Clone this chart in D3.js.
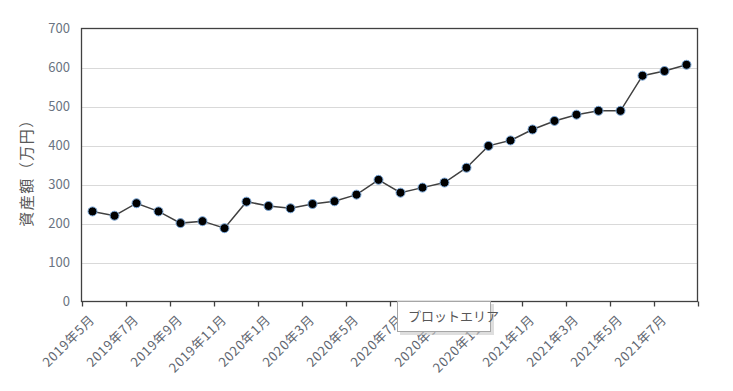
<!DOCTYPE html>
<html>
<head>
<meta charset="utf-8">
<script src="https://cdn.jsdelivr.net/npm/d3@7"></script>
<style>
  body { margin: 0; background: #fff; }
  svg { display: block; font-family: "Noto Sans CJK JP", "Noto Sans", sans-serif; }
</style>
</head>
<body>
<svg id="chart" width="733" height="391"></svg>
<script>
// monthly categories, 2019年5月 .. 2021年8月
var months = ["2019年5月","2019年6月","2019年7月","2019年8月","2019年9月","2019年10月","2019年11月","2019年12月",
              "2020年1月","2020年2月","2020年3月","2020年4月","2020年5月","2020年6月","2020年7月","2020年8月",
              "2020年9月","2020年10月","2020年11月","2020年12月","2021年1月","2021年2月","2021年3月","2021年4月",
              "2021年5月","2021年6月","2021年7月","2021年8月"];
var assets = [231, 220, 252, 231, 201, 206, 188, 256,
              245, 239, 250, 257, 274, 312, 279, 292,
              305, 343, 399, 413, 441, 463, 479, 489,
              489, 579, 591, 607];
var yTicks = [0, 100, 200, 300, 400, 500, 600, 700];
var yTitle = "資産額（万円）";
var tipText = "プロットエリア";

function main() {
  var svg = d3.select("#chart");
  var left = 81.5, right = 697.5, top = 28.5, bottom = 301.5;

  var x = d3.scaleBand().domain(months).range([left, right]).padding(0);
  var y = d3.scaleLinear().domain([0, 700]).range([bottom, top]);

  // gridlines
  svg.append("g")
    .selectAll("line")
    .data(yTicks.slice(1, -1))
    .enter().append("line")
    .attr("x1", left).attr("x2", right)
    .attr("y1", function(d) { return Math.round(y(d)) + 0.5; })
    .attr("y2", function(d) { return Math.round(y(d)) + 0.5; })
    .attr("stroke", "#d9d9d9").attr("stroke-width", 1.2);

  // plot frame
  svg.append("rect")
    .attr("x", left).attr("y", top)
    .attr("width", right - left).attr("height", bottom - top)
    .attr("fill", "none").attr("stroke", "#404040").attr("stroke-width", 1.3);

  // y labels
  svg.append("g")
    .selectAll("text")
    .data(yTicks)
    .enter().append("text")
    .attr("x", 70)
    .attr("y", function(d) { return y(d); })
    .attr("dy", "0.35em")
    .attr("text-anchor", "end")
    .attr("font-size", 13)
    .attr("fill", "#6a7482")
    .text(function(d) { return d; });

  // x ticks every 2 months on category boundaries
  var tickPos = [];
  for (var i = 0; i <= months.length; i += 2) tickPos.push(left + i * x.bandwidth());
  svg.append("g")
    .selectAll("line")
    .data(tickPos)
    .enter().append("line")
    .attr("x1", function(d) { return Math.round(d) + 0.5; })
    .attr("x2", function(d) { return Math.round(d) + 0.5; })
    .attr("y1", bottom).attr("y2", bottom + 5)
    .attr("stroke", "#404040").attr("stroke-width", 1.3);

  // x labels, rotated
  svg.append("g")
    .selectAll("text")
    .data(months.filter(function(d, i) { return i % 2 == 0; }))
    .enter().append("text")
    .attr("transform", function(d) {
      return "translate(" + (x(d) + x.bandwidth() / 2 + 3) + "," + (bottom + 19) + ") rotate(-45)";
    })
    .attr("text-anchor", "end")
    .attr("font-size", 13)
    .attr("letter-spacing", 0.7)
    .attr("fill", "#5f6670")
    .text(function(d) { return d; });

  // y title
  svg.append("text")
    .attr("transform", "translate(32,169) rotate(-90)")
    .attr("text-anchor", "middle")
    .attr("font-size", 15)
    .attr("letter-spacing", 1.5)
    .attr("fill", "#595959")
    .text(yTitle);

  // line
  var line = d3.line()
    .x(function(d, i) { return x(months[i]) + x.bandwidth() / 2; })
    .y(function(d) { return y(d); });

  svg.append("path")
    .datum(assets)
    .attr("d", line)
    .attr("fill", "none")
    .attr("stroke", "#404040")
    .attr("stroke-width", 1.5);

  svg.append("g")
    .selectAll("circle")
    .data(assets)
    .enter().append("circle")
    .attr("cx", function(d, i) { return x(months[i]) + x.bandwidth() / 2; })
    .attr("cy", function(d) { return y(d); })
    .attr("r", 4.5)
    .attr("fill", "#000")
    .attr("stroke", "#7aa7d8")
    .attr("stroke-width", 1);

  // tooltip box
  var tip = svg.append("g").attr("transform", "translate(397,301)");
  tip.append("rect").attr("x", 3).attr("y", 3).attr("width", 94).attr("height", 31)
    .attr("fill", "#c8c8c8").attr("opacity", 0.6);
  tip.append("rect").attr("x", 0.5).attr("y", 0.5).attr("width", 93).attr("height", 30)
    .attr("fill", "#fff").attr("stroke", "#a6a6a6");
  tip.append("text").attr("x", 11).attr("y", 20)
    .attr("font-size", 13).attr("fill", "#575757")
    .text(tipText);
}

main();
</script>
</body>
</html>
